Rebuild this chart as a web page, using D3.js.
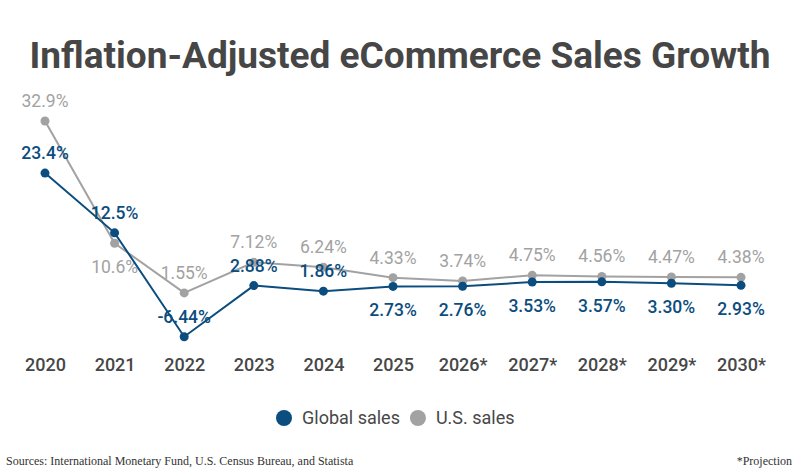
<!DOCTYPE html>
<html>
<head>
<meta charset="utf-8">
<script src="https://cdn.jsdelivr.net/npm/d3@7"></script>
<style>
  body { margin: 0; background: #fff; }
  svg { display: block; font-family: Roboto, "Noto Sans", sans-serif; }
</style>
</head>
<body>
<svg id="chart" width="800" height="475"></svg>
<script>
// data
let years = ["2020", "2021", "2022", "2023", "2024", "2025", "2026*", "2027*", "2028*", "2029*", "2030*"];
let globalSales = [23.4, 12.5, -6.44, 2.88, 1.86, 2.73, 2.76, 3.53, 3.57, 3.30, 2.93];
let usSales = [32.9, 10.6, 1.55, 7.12, 6.24, 4.33, 3.74, 4.75, 4.56, 4.47, 4.38];
let globalLabels = ["23.4%", "12.5%", "-6.44%", "2.88%", "1.86%", "2.73%", "2.76%", "3.53%", "3.57%", "3.30%", "2.93%"];
let usLabels = ["32.9%", "10.6%", "1.55%", "7.12%", "6.24%", "4.33%", "3.74%", "4.75%", "4.56%", "4.47%", "4.38%"];
// label above (-1) or below (1) the point
let globalSide = [-1, -1, -1, -1, -1, 1, 1, 1, 1, 1, 1];
let usSide = [-1, 1, -1, -1, -1, -1, -1, -1, -1, -1, -1];

let blue = "#0b4d7e";
let grey = "#a2a2a2";

let svg = d3.select("#chart");

let x = d3.scalePoint()
    .domain(years)
    .range([45, 741]);

let y = d3.scaleLinear()
    .domain([-6.44, 32.9])
    .range([336.7, 121]);

//? Title
svg.append("text")
    .attr("x", 400)
    .attr("y", 68)
    .attr("text-anchor", "middle")
    .style("font-size", "37px")
    .style("font-weight", "700")
    .style("fill", "#464646")
    .text("Inflation-Adjusted eCommerce Sales Growth");

//? x axis (labels only)
let xAxis = d3.axisBottom(x).tickSize(0).tickPadding(0);
let gx = svg.append("g")
    .attr("transform", "translate(0,358)")
    .call(xAxis);
gx.select(".domain").remove();
gx.selectAll("text")
    .attr("dy", "0.71em")
    .style("font-family", "Roboto, sans-serif")
    .style("font-size", "18px")
    .style("font-weight", "500")
    .style("fill", "#474747");

function drawSeries(values, labels, side, color, weight) {
    let pts = years.map(function (yr, i) {
        return { year: yr, v: values[i], label: labels[i], side: side[i] };
    });
    let line = d3.line()
        .x(function (d) { return x(d.year); })
        .y(function (d) { return y(d.v); });
    let g = svg.append("g");
    g.append("path")
        .datum(pts)
        .attr("d", line)
        .attr("fill", "none")
        .attr("stroke", color)
        .attr("stroke-width", 2);
    g.selectAll("circle")
        .data(pts)
        .enter()
        .append("circle")
        .attr("cx", function (d) { return x(d.year); })
        .attr("cy", function (d) { return y(d.v); })
        .attr("r", 4.5)
        .attr("fill", color);
    return { g: g, pts: pts, weight: weight, color: color };
}

let usS = drawSeries(usSales, usLabels, usSide, grey, "400");
let glS = drawSeries(globalSales, globalLabels, globalSide, blue, "500");

function drawLabels(s) {
    s.g.selectAll("text")
        .data(s.pts)
        .enter()
        .append("text")
        .attr("x", function (d) { return x(d.year); })
        .attr("y", function (d) { return y(d.v) + (d.side < 0 ? -14 : 30); })
        .attr("text-anchor", "middle")
        .style("font-size", "17.5px")
        .style("font-weight", s.weight)
        .style("fill", s.color)
        .text(function (d) { return d.label; });
}
drawLabels(usS);
drawLabels(glS);

//? Legend
let legendItems = [
    { name: "Global sales", color: blue },
    { name: "U.S. sales", color: grey }
];
let legend = svg.append("g");
let lx = 284;
legendItems.forEach(function (item) {
    legend.append("circle")
        .attr("cx", lx)
        .attr("cy", 418)
        .attr("r", 8)
        .attr("fill", item.color);
    let t = legend.append("text")
        .attr("x", lx + 18)
        .attr("y", 424)
        .style("font-size", "18px")
        .style("fill", "#474747")
        .text(item.name);
    lx = lx + 18 + t.node().getComputedTextLength() + 18;
});

//? Footer
svg.append("text")
    .attr("x", 6)
    .attr("y", 465)
    .style("font-family", "'Liberation Serif', 'Times New Roman', serif")
    .style("font-size", "12px")
    .style("fill", "#333")
    .text("Sources: International Monetary Fund, U.S. Census Bureau, and Statista");
svg.append("text")
    .attr("x", 792)
    .attr("y", 465)
    .attr("text-anchor", "end")
    .style("font-family", "'Liberation Serif', 'Times New Roman', serif")
    .style("font-size", "12px")
    .style("fill", "#333")
    .text("*Projection");
</script>
</body>
</html>
